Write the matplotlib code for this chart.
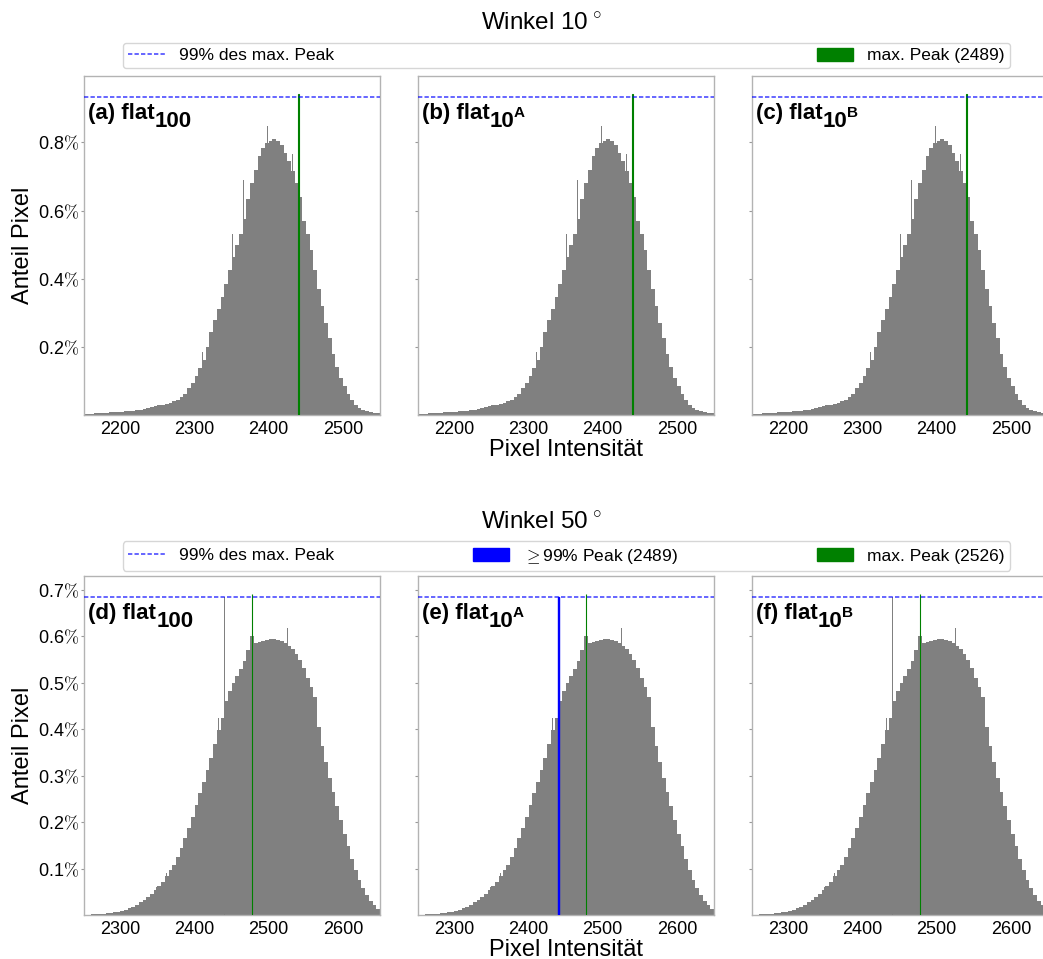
import numpy as np
import matplotlib.pyplot as plt
from matplotlib import font_manager as fm
from matplotlib.lines import Line2D
from matplotlib.patches import Patch

plt.rcParams['font.family'] = ['Liberation Sans', 'DejaVu Sans']
plt.rcParams['mathtext.fontset'] = 'cm'

# Winkel 10°: share of pixels (in %) per 5-wide intensity bin, starting at 2150
hist10_start = 2150
hist10 = [0.003, 0.004, 0.004, 0.005, 0.006, 0.006, 0.007, 0.008, 0.008, 0.009,
          0.010, 0.011, 0.012, 0.013, 0.015, 0.016, 0.018, 0.020, 0.023, 0.026,
          0.028, 0.030, 0.033, 0.036, 0.040, 0.045, 0.053, 0.063, 0.078, 0.095,
          0.115, 0.137, 0.160, 0.200, 0.245, 0.280, 0.312, 0.345, 0.385, 0.425,
          0.465, 0.500, 0.530, 0.575, 0.635, 0.680, 0.718, 0.760, 0.785, 0.797,
          0.805, 0.809, 0.803, 0.792, 0.770, 0.745, 0.715, 0.680, 0.640, 0.570,
          0.530, 0.485, 0.425, 0.370, 0.320, 0.270, 0.225, 0.180, 0.140, 0.110,
          0.085, 0.062, 0.045, 0.030, 0.022, 0.016, 0.012, 0.009, 0.007, 0.005]
# single intensities standing out of the histogram: (intensity, %)
spikes10 = [(2310, 0.185), (2351, 0.53), (2362, 0.56), (2366, 0.69),
            (2398, 0.847), (2432, 0.765), (2478, 0.25)]

# Winkel 50°, starting at 2250
hist50_start = 2250
hist50 = [0.001, 0.001, 0.002, 0.002, 0.003, 0.003, 0.004, 0.005, 0.006, 0.007,
          0.009, 0.011, 0.014, 0.018, 0.022, 0.027, 0.032, 0.038, 0.045, 0.053,
          0.062, 0.072, 0.085, 0.097, 0.108, 0.125, 0.145, 0.166, 0.188, 0.212,
          0.237, 0.262, 0.287, 0.313, 0.338, 0.368, 0.398, 0.425, 0.460, 0.482,
          0.500, 0.515, 0.530, 0.548, 0.570, 0.600, 0.585, 0.588, 0.590, 0.592,
          0.594, 0.595, 0.593, 0.590, 0.585, 0.580, 0.572, 0.562, 0.550, 0.533,
          0.510, 0.490, 0.470, 0.405, 0.365, 0.330, 0.295, 0.265, 0.235, 0.205,
          0.175, 0.148, 0.120, 0.096, 0.075, 0.058, 0.043, 0.030, 0.021, 0.012]
spikes50 = [(2348, 0.06), (2362, 0.09), (2432, 0.424), (2462, 0.567),
            (2496, 0.664), (2525, 0.617), (2566, 0.456)]

# raw intensity values vs. the plotted axis
raw_offset = 49
max_peak10 = (2489, 0.943)
max_peak50 = (2526, 0.692)
near_peak50 = (2489, 0.685)

labels10 = [("(a) flat", "100", ""), ("(b) flat", "10", "A"), ("(c) flat", "10", "B")]
labels50 = [("(d) flat", "100", ""), ("(e) flat", "10", "A"), ("(f) flat", "10", "B")]
yticks10 = [0.2, 0.4, 0.6, 0.8]
yticks50 = [0.1, 0.2, 0.3, 0.4, 0.5, 0.6, 0.7]
xticks10 = [2200, 2300, 2400, 2500]
xticks50 = [2300, 2400, 2500, 2600]

# regular-width bold face (avoid the Narrow variant)
bold_file = next((f.fname for f in fm.fontManager.ttflist
                  if f.name == 'Liberation Sans' and f.weight in (700, 'bold')
                  and 'Narrow' not in f.fname), None)


def bold_font(size):
    if bold_file:
        return fm.FontProperties(fname=bold_file, size=size)
    return fm.FontProperties(family='DejaVu Sans', weight='bold', size=size)


W, H = 1043, 959
fig = plt.figure(figsize=(W / 100, H / 100), dpi=100)
col_left = [84, 418, 752]
col_w = 296


def px_axes(x0, top, bottom):
    return fig.add_axes([x0 / W, 1 - bottom / H, col_w / W, (bottom - top) / H])


def panel_label(ax, head, sub, sup):
    t = ax.text(0.013, 0.872, head, transform=ax.transAxes,
                fontproperties=bold_font(16), va='baseline', zorder=5)
    t2 = ax.annotate(sub, xy=(1, 0), xycoords=t, xytext=(0.3, -5.5),
                     textcoords='offset points', fontproperties=bold_font(16),
                     va='bottom', zorder=5)
    if sup:
        ax.annotate(sup, xy=(1, 0), xycoords=t2, xytext=(-0.6, 8.5),
                    textcoords='offset points', fontproperties=bold_font(11),
                    va='bottom', zorder=5)


def draw_row(top, bottom, start, hist, spikes, max_peak, near_peak, labels,
             yticks, xticks, xlim):
    axes = []
    ymax = max_peak[1] * 1.055
    edges = start + 5 * np.arange(len(hist) + 1)
    for i, x0 in enumerate(col_left):
        ax = px_axes(x0, top, bottom)
        ax.stairs(hist, edges, fill=True, color='grey', linewidth=0)
        for pos, h in spikes:
            ax.bar(pos, h, width=1, align='edge', color='grey', linewidth=0)
        if near_peak is not None:
            col = 'blue' if i == 1 else 'grey'
            lw = 1.0 if i == 1 else 0
            ax.bar(near_peak[0] - raw_offset, near_peak[1], width=1,
                   align='edge', color=col, edgecolor=col, linewidth=lw, zorder=3)
        ax.bar(max_peak[0] - raw_offset, max_peak[1], width=1, align='edge',
               color='green', edgecolor='green', linewidth=0.8, zorder=3)
        ax.axhline(max_peak[1] * 0.99, color='blue', alpha=0.7, lw=1.2,
                   linestyle=(0, (2.6, 1.3)), zorder=4)
        ax.set_xlim(*xlim)
        ax.set_ylim(0, ymax)
        ax.set_xticks(xticks)
        ax.set_yticks(yticks)
        ax.set_yticklabels([f"{v:.1f}" + r"$\%$" for v in yticks])
        ax.tick_params(axis='x', length=0, pad=4, labelsize=13)
        ax.tick_params(axis='y', length=2.5, pad=1, labelsize=13,
                       color='0.6', labelleft=(i == 0))
        for sp in ax.spines.values():
            sp.set_color('0.7')
            sp.set_linewidth(1.0)
        panel_label(ax, *labels[i])
        axes.append(ax)
    axes[0].set_ylabel("Anteil Pixel", fontsize=17, labelpad=3)
    axes[1].set_xlabel("Pixel Intensität", fontsize=17, labelpad=1)
    return axes


draw_row(76, 415, hist10_start, hist10, spikes10, max_peak10, None,
         labels10, yticks10, xticks10, (2151, 2550))
draw_row(576, 915, hist50_start, hist50, spikes50, max_peak50, near_peak50,
         labels50, yticks50, xticks50, (2251, 2650))

fig.text(541 / W, 1 - 24 / H, r"Winkel 10$\,^{\circ}$", fontsize=17.5,
         ha='center', va='center')
fig.text(541 / W, 1 - 523 / H, r"Winkel 50$\,^{\circ}$", fontsize=17.5,
         ha='center', va='center')

dash = Line2D([], [], color='blue', alpha=0.7, lw=1.2, linestyle=(0, (2.6, 1.3)))
leg_kw = dict(mode='expand', loc='center', fontsize=12.5, handlelength=2.1,
              handleheight=0.75, handletextpad=0.8, borderaxespad=0,
              borderpad=0.3, fancybox=True)
fig.legend([dash, Patch(color='green')],
           ["99% des max. Peak", f"max. Peak ({max_peak10[0]})"], ncol=2,
           bbox_to_anchor=(123 / W, 1 - 71 / H, 887 / W, 31 / H), **leg_kw)
fig.legend([dash, Patch(color='blue'), Patch(color='green')],
           ["99% des max. Peak", r"$\geq$" + f"99% Peak ({near_peak50[0]})",
            f"max. Peak ({max_peak50[0]})"], ncol=3,
           bbox_to_anchor=(123 / W, 1 - 572 / H, 887 / W, 32 / H), **leg_kw)

fig.savefig("out.png", dpi=100)
